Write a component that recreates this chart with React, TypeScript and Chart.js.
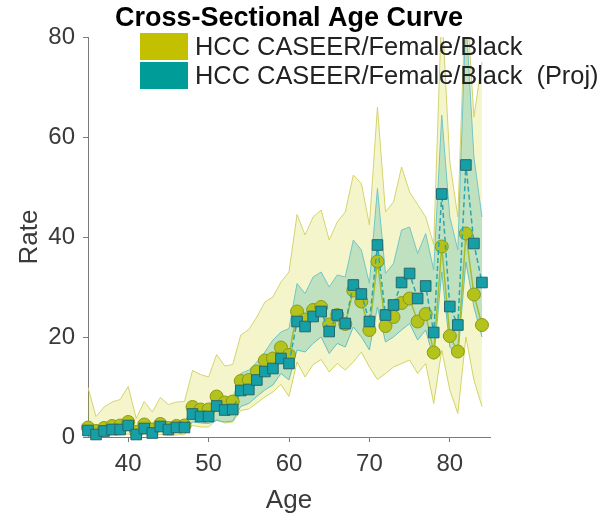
import React, { useEffect, useRef } from 'react';
import { Chart, registerables } from 'chart.js';

Chart.register(...registerables);

// ---- data (ages 35..84) ----
const ages = [
  35, 36, 37, 38, 39, 40, 41, 42, 43, 44, 45, 46, 47, 48, 49,
  50, 51, 52, 53, 54, 55, 56, 57, 58, 59, 60,
  61, 62, 63, 64, 65, 66, 67, 68, 69, 70, 71, 72,
  73, 74, 75, 76, 77, 78, 79, 80, 81, 82, 83, 84,
];

const obsRate = [
  1.9, 1.2, 1.8, 2.2, 2.3, 3.0, 1.0, 2.5, 1.5, 2.6, 1.8, 2.2, 2.3, 6.0, 5.5,
  5.5, 8.1, 6.9, 7.1, 11.2, 11.4, 13.1, 15.3, 15.7, 17.9, 16.4,
  25.1, 23.5, 25.4, 26.0, 22.5, 24.4, 22.6, 29.3, 27.1, 21.4, 35.1, 22.2,
  24.0, 26.8, 27.7, 23.1, 24.6, 16.9, 38.1, 20.2, 17.1, 40.7, 28.5, 22.4,
];

const obsUpper = [
  9.9, 4.1, 6.0, 7.0, 7.5, 10.1, 3.7, 7.1, 5.0, 7.9, 6.5, 7.0, 7.1, 13.3, 12.5,
  12.0, 16.5, 14.2, 14.5, 20.4, 21.5, 24.0, 27.0, 28.0, 31.0, 33.0,
  44.5, 40.4, 44.0, 45.4, 39.4, 43.0, 45.0, 52.4, 50.7, 42.4, 66.0, 45.0,
  47.0, 54.0, 49.0, 46.5, 44.0, 38.5, 86.0, 55.0, 44.0, 90.0, 64.0, 75.0,
];

const obsLower = [
  0.2, 0.1, 0.2, 0.4, 0.4, 0.6, 0.1, 0.5, 0.2, 0.5, 0.3, 0.4, 0.5, 2.3, 2.0,
  2.0, 3.5, 2.8, 3.0, 5.3, 5.6, 6.8, 8.0, 9.0, 10.5, 8.1,
  15.0, 12.0, 14.5, 15.5, 13.0, 14.7, 13.4, 15.0, 17.0, 14.0, 11.5, 12.7,
  14.0, 14.7, 15.4, 12.7, 14.7, 6.7, 17.4, 9.4, 4.7, 20.0, 11.4, 6.1,
];

const projRate = [
  1.3, 0.5, 1.2, 1.5, 1.5, 2.3, 0.5, 1.7, 0.8, 2.1, 1.5, 1.9, 1.9, 4.6, 4.1,
  4.1, 6.2, 5.4, 5.5, 9.3, 9.5, 11.4, 13.1, 13.7, 15.7, 14.7,
  23.1, 22.1, 24.1, 25.1, 21.1, 24.4, 22.7, 30.4, 28.6, 23.1, 38.4, 24.4,
  26.4, 30.9, 32.7, 27.7, 30.2, 20.9, 48.6, 26.1, 22.4, 54.4, 38.7, 30.9,
];

const projUpper = [
  2.2, 1.4, 2.1, 2.5, 2.5, 3.3, 1.4, 2.7, 1.8, 3.1, 2.5, 2.9, 3.0, 5.8, 5.4,
  5.4, 8.4, 7.4, 7.7, 12.7, 13.4, 15.0, 17.0, 19.4, 21.0, 21.7,
  30.7, 28.7, 32.0, 33.0, 30.0, 32.4, 32.0, 39.4, 37.4, 30.7, 49.7, 32.7,
  34.7, 41.4, 42.0, 36.7, 40.7, 33.4, 64.4, 44.0, 37.4, 84.0, 56.0, 44.0,
];

const projLower = [
  0.6, 0.1, 0.6, 0.8, 0.8, 1.4, 0.1, 0.9, 0.3, 1.3, 0.8, 1.1, 1.1, 3.0, 2.8,
  2.7, 3.3, 3.0, 3.2, 6.1, 6.7, 8.1, 9.4, 10.4, 12.7, 11.4,
  17.4, 17.0, 18.7, 20.0, 16.7, 18.7, 18.0, 22.0, 20.0, 17.4, 26.0, 19.0,
  20.0, 21.4, 22.7, 19.4, 21.4, 15.5, 33.0, 18.0, 16.0, 35.0, 26.0, 20.0,
];

const xTicks = [40, 50, 60, 70, 80];
const yTicks = [0, 20, 40, 60, 80];
const titleText = 'Cross-Sectional Age Curve';
const legendLabels = ['HCC CASEER/Female/Black', 'HCC CASEER/Female/Black  (Proj)'];
const legendColors = ['#c3c000', '#009c98'];

const FONT = '"Liberation Sans", Arial, Helvetica, sans-serif';

const toXY = (vals: number[]) => ages.map((a, i) => ({ x: a, y: vals[i] }));

const legendPlugin = {
  id: 'insideLegend',
  afterDraw(chart: any) {
    const ctx = chart.ctx;
    const area = chart.chartArea;
    const boxX = area.left + 52;
    const boxW = 48;
    const boxH = 27;
    const rowH = 29;
    const top0 = area.top - 4;
    ctx.save();
    ctx.font = `25.4px ${FONT}`;
    ctx.textBaseline = 'middle';
    ctx.textAlign = 'left';
    legendLabels.forEach((label, i) => {
      const y = top0 + i * rowH;
      ctx.fillStyle = legendColors[i];
      ctx.fillRect(boxX, y, boxW, boxH);
      ctx.fillStyle = '#222222';
      ctx.fillText(label, boxX + boxW + 7, y + boxH / 2 + 1);
    });
    ctx.restore();
  },
};

export default function App() {
  const ref = useRef<HTMLCanvasElement | null>(null);

  useEffect(() => {
    document.body.style.margin = '0';
    const canvas = ref.current;
    if (!canvas) return;
    Chart.defaults.font.family = FONT;

    const axisColor = '#7a7a7a';
    const tickColor = '#3a3a3a';

    const chart = new Chart(canvas, {
      type: 'line',
      data: {
        datasets: [
          {
            label: legendLabels[1],
            data: toXY(projRate),
            borderColor: '#2aa6ae',
            borderWidth: 1.5,
            borderDash: [5, 3],
            pointStyle: 'rect',
            pointRadius: 7.5,
            pointBackgroundColor: '#15a0a8',
            pointBorderColor: '#27666c',
            pointBorderWidth: 1,
            fill: false,
            clip: false,
            order: 0,
          },
          {
            label: legendLabels[0],
            data: toXY(obsRate),
            borderColor: '#a4bf2a',
            borderWidth: 1.5,
            pointStyle: 'circle',
            pointRadius: 6.5,
            pointBackgroundColor: '#b4c21c',
            pointBorderColor: '#8a9a14',
            pointBorderWidth: 1,
            fill: false,
            clip: false,
            order: 1,
          },
          {
            label: 'proj upper',
            data: toXY(projUpper),
            borderColor: '#72c6c4',
            borderWidth: 1,
            pointRadius: 0,
            backgroundColor: 'rgba(0,150,140,0.22)',
            fill: { target: 3 },
            order: 2,
          },
          {
            label: 'proj lower',
            data: toXY(projLower),
            borderColor: '#72c6c4',
            borderWidth: 1,
            pointRadius: 0,
            fill: false,
            order: 3,
          },
          {
            label: 'obs upper',
            data: toXY(obsUpper),
            borderColor: '#d3d46e',
            borderWidth: 1,
            pointRadius: 0,
            backgroundColor: 'rgba(204,204,0,0.2)',
            fill: { target: 5 },
            order: 4,
          },
          {
            label: 'obs lower',
            data: toXY(obsLower),
            borderColor: '#d3d46e',
            borderWidth: 1,
            pointRadius: 0,
            fill: false,
            order: 5,
          },
        ],
      },
      options: {
        animation: false,
        responsive: false,
        devicePixelRatio: 1,
        layout: { padding: { top: 0, right: 121, left: 0, bottom: 0 } },
        elements: { line: { tension: 0 } },
        plugins: {
          legend: { display: false },
          tooltip: { enabled: false },
          title: {
            display: true,
            text: titleText,
            fullSize: false,
            color: '#000000',
            font: { size: 27, weight: 'bold', family: FONT },
            padding: { top: 2, bottom: 2.6 },
          },
        },
        scales: {
          x: {
            type: 'linear',
            min: 35,
            max: 85,
            afterBuildTicks: (s: any) => {
              s.ticks = xTicks.map((v) => ({ value: v }));
            },
            afterFit: (s: any) => {
              s.height = 86;
            },
            ticks: {
              color: tickColor,
              font: { size: 24, family: FONT },
              padding: 8,
              maxRotation: 0,
            },
            grid: {
              drawOnChartArea: false,
              drawTicks: true,
              tickLength: 5,
              color: axisColor,
            },
            border: { color: axisColor, width: 1 },
            title: {
              display: true,
              text: 'Age',
              color: tickColor,
              font: { size: 26, family: FONT },
              padding: { top: 0, bottom: 7 },
            },
          },
          y: {
            type: 'linear',
            min: 0,
            max: 80,
            afterBuildTicks: (s: any) => {
              s.ticks = yTicks.map((v) => ({ value: v }));
            },
            afterFit: (s: any) => {
              s.width = 88;
            },
            ticks: {
              color: tickColor,
              font: { size: 24, family: FONT },
              padding: 8,
            },
            grid: {
              drawOnChartArea: false,
              drawTicks: true,
              tickLength: 5,
              color: axisColor,
            },
            border: { color: axisColor, width: 1 },
            title: {
              display: true,
              text: 'Rate',
              color: tickColor,
              font: { size: 26, family: FONT },
              padding: { top: 14, bottom: 0 },
            },
          },
        },
      },
      plugins: [legendPlugin],
    } as any);

    return () => chart.destroy();
  }, []);

  return (
    <div style={{ width: 611, height: 523 }}>
      <canvas ref={ref} width={611} height={523} style={{ display: 'block', width: 611, height: 523 }} />
    </div>
  );
}
